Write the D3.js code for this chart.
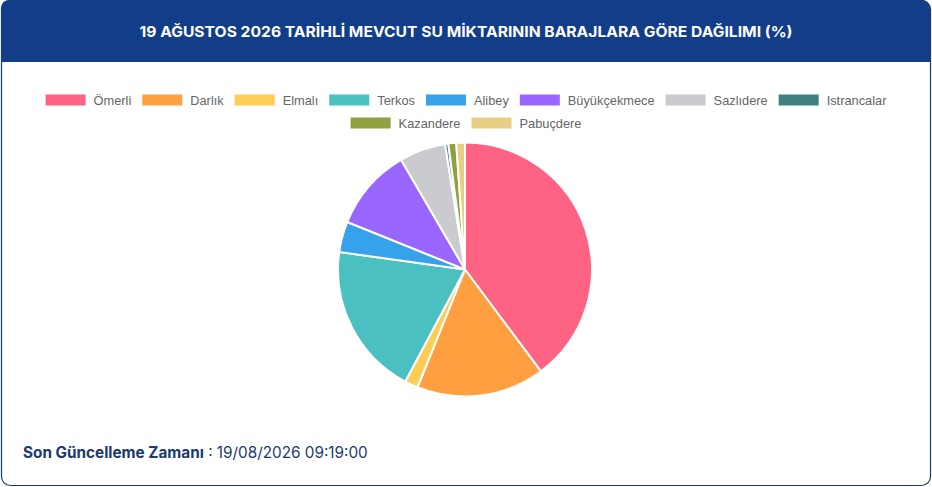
<!DOCTYPE html>
<html>
<head>
<meta charset="utf-8">
<script src="https://cdn.jsdelivr.net/npm/d3@7"></script>
<style>
  body { margin: 0; background: #fff; }
  svg { display: block; }
</style>
</head>
<body>
<svg></svg>
<script>
const barajlar = ["Ömerli", "Darlık", "Elmalı", "Terkos", "Alibey", "Büyükçekmece", "Sazlıdere", "Istrancalar", "Kazandere", "Pabuçdere"];
const oranlar = [39.8, 16.3, 1.7, 19.4, 3.9, 10.5, 5.9, 0.4, 1.0, 1.1];
const renkler = ["#ff6384", "#ff9f40", "#ffcd56", "#4bc0c0", "#36a2eb", "#9966ff", "#c9cbcf", "#3f7f80", "#8fa03f", "#e8cd84"];

const baslik = "19 AĞUSTOS 2026 TARİHLİ MEVCUT SU MİKTARININ BARAJLARA GÖRE DAĞILIMI (%)";
const guncellemeEtiket = "Son Güncelleme Zamanı";
const guncellemeZaman = " : 19/08/2026 09:19:00";

const width = 932;
const height = 487;
const svg = d3.select("svg").attr("width", width).attr("height", height);

// card + header
svg.append("rect")
  .attr("x", 1.5).attr("y", 0.5)
  .attr("width", width - 3).attr("height", height - 2)
  .attr("rx", 9)
  .attr("fill", "#fff")
  .attr("stroke", "#1b3a6b")
  .attr("stroke-width", 1.2);

svg.append("path")
  .attr("d", `M1,62 V9 Q1,0 10,0 H${width - 11} Q${width - 2},0 ${width - 2},9 V62 Z`)
  .attr("fill", "#123d88");

svg.append("text")
  .attr("x", width / 2).attr("y", 37)
  .attr("text-anchor", "middle")
  .attr("fill", "#fff")
  .attr("font-family", "Inter, 'Noto Sans', sans-serif")
  .attr("font-weight", 700)
  .attr("font-size", 14.5)
  .attr("textLength", 653)
  .attr("lengthAdjust", "spacingAndGlyphs")
  .text(baslik);

// legend
const legend = svg.append("g").attr("font-family", "'Liberation Sans', Arial, sans-serif").attr("font-size", 12.8);
const boxW = 40, boxH = 11, gap = 8, pad = 11, maxRowW = 860;
const items = barajlar.map((name, i) => {
  const t = legend.append("text").attr("fill", "#666").text(name);
  return { name, i, t, w: boxW + gap + t.node().getComputedTextLength() };
});
const rows = [[]];
let rowW = 0;
items.forEach((it) => {
  const need = rowW === 0 ? it.w : rowW + pad + it.w;
  if (need > maxRowW) { rows.push([it]); rowW = it.w; }
  else { rows[rows.length - 1].push(it); rowW = need; }
});
rows.forEach((row, r) => {
  const total = d3.sum(row, (d) => d.w) + pad * (row.length - 1);
  let x = width / 2 - total / 2;
  const cy = 100 + r * 23;
  row.forEach((it) => {
    legend.append("rect")
      .attr("x", x).attr("y", cy - boxH / 2)
      .attr("width", boxW).attr("height", boxH)
      .attr("fill", renkler[it.i]);
    it.t.attr("x", x + boxW + gap).attr("y", cy + 4.5);
    x += it.w + pad;
  });
});

// pie
const cx = 465, cy = 269.5, r = 127;
const pie = d3.pie().sort(null).value((d) => d)(oranlar);
const arc = d3.arc().innerRadius(0).outerRadius(r);
svg.append("g")
  .attr("transform", `translate(${cx},${cy})`)
  .selectAll("path")
  .data(pie)
  .enter()
  .append("path")
  .attr("d", arc)
  .attr("fill", (d, i) => renkler[i])
  .attr("stroke", "#fff")
  .attr("stroke-width", 2)
  .attr("stroke-linejoin", "round");

// footer
const foot = svg.append("text")
  .attr("x", 23).attr("y", 458)
  .attr("fill", "#1b3a6b")
  .attr("font-family", "Inter, 'Noto Sans', sans-serif")
  .attr("font-size", 15.3);
foot.append("tspan").attr("font-weight", 700).text(guncellemeEtiket);
foot.append("tspan").attr("font-weight", 400).text(guncellemeZaman);
</script>
</body>
</html>
